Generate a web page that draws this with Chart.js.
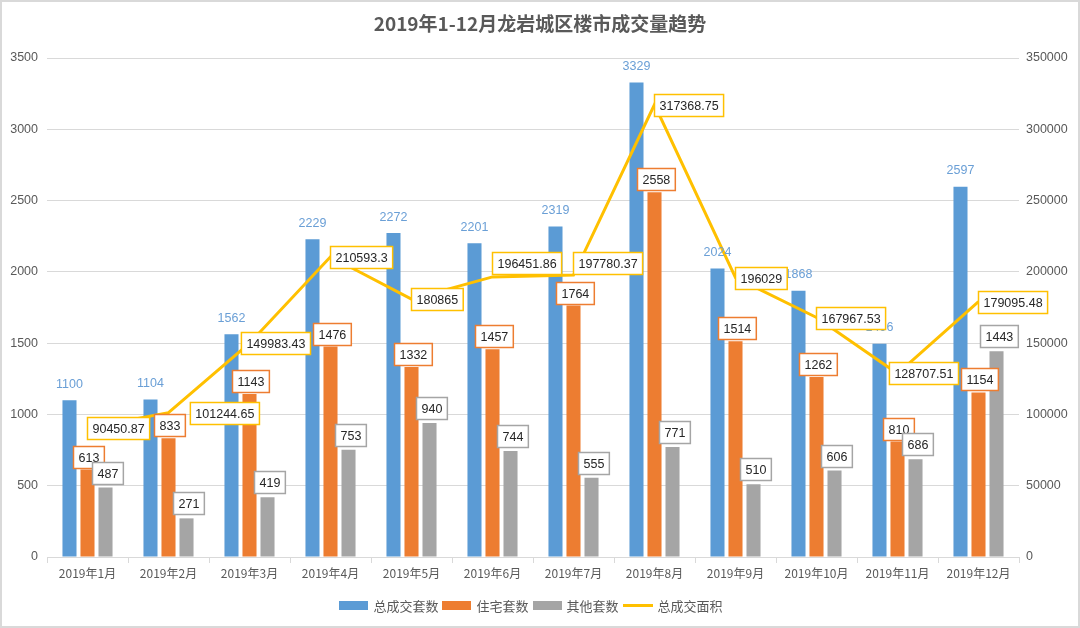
<!DOCTYPE html>
<html>
<head>
<meta charset="utf-8">
<script src="https://cdn.jsdelivr.net/npm/chart.js@4/dist/chart.umd.min.js"></script>
<style>
  html, body { margin: 0; padding: 0; background: #fff; }
  #wrap { position: relative; width: 1080px; height: 628px; overflow: hidden; }
  #frame { position: absolute; left: 0; top: 0; width: 1076px; height: 624px; border: 2px solid #d9d9d9; pointer-events: none; }
  #title { position: absolute; left: 0; top: 9px; width: 1080px; text-align: center; font: bold 19px "Noto Sans CJK SC", sans-serif; color: #595959; }
  #legend { position: absolute; left: 0; top: 596px; width: 1062px; display: flex; justify-content: center; align-items: center; font: 13px "Noto Sans CJK SC", sans-serif; color: #595959; }
  #legend .it { display: flex; align-items: center; margin: 0 2px; }
  #legend .sw { display: inline-block; width: 29px; height: 9px; margin-right: 5px; }
  #legend .ln { display: inline-block; width: 30px; height: 3px; margin-right: 5px; }
  canvas { position: absolute; left: 0; top: 0; }
</style>
</head>
<body>
<div id="wrap">
  <canvas id="c" width="1080" height="628"></canvas>
  <div id="title">2019年1-12月龙岩城区楼市成交量趋势</div>
  <div id="legend"></div>
  <div id="frame"></div>
</div>
<script>
const categories = ['2019年1月','2019年2月','2019年3月','2019年4月','2019年5月','2019年6月','2019年7月','2019年8月','2019年9月','2019年10月','2019年11月','2019年12月'];
const totalUnits = [1100, 1104, 1562, 2229, 2272, 2201, 2319, 3329, 2024, 1868, 1496, 2597];
const residentialUnits = [613, 833, 1143, 1476, 1332, 1457, 1764, 2558, 1514, 1262, 810, 1154];
const otherUnits = [487, 271, 419, 753, 940, 744, 555, 771, 510, 606, 686, 1443];
const totalArea = [90450.87, 101244.65, 149983.43, 210593.3, 180865, 196451.86, 197780.37, 317368.75, 196029, 167967.53, 128707.51, 179095.48];
const areaLabels = ['90450.87','101244.65','149983.43','210593.3','180865','196451.86','197780.37','317368.75','196029','167967.53','128707.51','179095.48'];
const leftTicks = [0, 500, 1000, 1500, 2000, 2500, 3000, 3500];
const rightTicks = [0, 50000, 100000, 150000, 200000, 250000, 300000, 350000];
const seriesNames = ['总成交套数', '住宅套数', '其他套数', '总成交面积'];

const BLUE = '#5b9bd5', ORANGE = '#ed7d31', GRAY = '#a5a5a5', YELLOW = '#ffc000';
const LABEL_FONT = '12.5px "Liberation Sans", sans-serif';
const BOX_H = 22;

// HTML legend
const legend = document.getElementById('legend');
[[BLUE,'sw'],[ORANGE,'sw'],[GRAY,'sw'],[YELLOW,'ln']].forEach((s, i) => {
  const it = document.createElement('span'); it.className = 'it';
  const sw = document.createElement('span'); sw.className = s[1]; sw.style.background = s[0];
  const tx = document.createElement('span'); tx.textContent = seriesNames[i];
  it.appendChild(sw); it.appendChild(tx); legend.appendChild(it);
});

function boxRect(ctx, text, cx, cy) {
  ctx.font = LABEL_FONT;
  const w = ctx.measureText(text).width + 10;
  return { x: Math.round(cx - w / 2) + 0.5, y: Math.round(cy - BOX_H / 2) + 0.5, w: w, h: BOX_H };
}
function drawBox(ctx, text, r, border) {
  ctx.font = LABEL_FONT;
  ctx.fillStyle = '#fff';
  ctx.fillRect(r.x, r.y, r.w, r.h);
  ctx.strokeStyle = border; ctx.lineWidth = 1.5;
  ctx.strokeRect(r.x, r.y, r.w, r.h);
  ctx.fillStyle = '#262626';
  ctx.textAlign = 'center'; ctx.textBaseline = 'middle';
  ctx.fillText(text, r.x + r.w / 2, r.y + r.h / 2 + 1);
}
function overlap(a, b) {
  return a.x < b.x + b.w && b.x < a.x + a.w && a.y < b.y + b.h && b.y < a.y + a.h;
}

const labelPlugin = {
  id: 'labels',
  afterDatasetsDraw(chart) {
    const ctx = chart.ctx;
    ctx.save();
    ctx.font = LABEL_FONT;
    ctx.fillStyle = '#6a9fd6'; ctx.textAlign = 'center'; ctx.textBaseline = 'middle';
    chart.getDatasetMeta(0).data.forEach((b, i) => ctx.fillText(String(totalUnits[i]), b.x, b.y - 16));
    const placed = [];
    chart.getDatasetMeta(1).data.forEach((b, i) => {
      const r = boxRect(ctx, String(residentialUnits[i]), b.x + 1, b.y - 13);
      drawBox(ctx, String(residentialUnits[i]), r, ORANGE); placed.push(r);
    });
    chart.getDatasetMeta(2).data.forEach((b, i) => {
      const r = boxRect(ctx, String(otherUnits[i]), b.x + 2, b.y - 15);
      drawBox(ctx, String(otherUnits[i]), r, GRAY); placed.push(r);
    });
    // line labels: just right of point; nudge away from bar labels
    chart.getDatasetMeta(3).data.forEach((p, i) => {
      const t = areaLabels[i];
      ctx.font = LABEL_FONT;
      const w = ctx.measureText(t).width + 10;
      let r = boxRect(ctx, t, p.x - 1 + w / 2, p.y);
      for (const q of placed) {
        if (overlap(r, q)) {
          const ov = r.y + r.h - q.y;
          if (ov > 0 && ov <= 8) r.y -= ov + 8;
          else if (q.x > r.x) r.x = q.x - r.w - 3;
          else r.x = q.x + q.w + 5;
        }
      }
      drawBox(ctx, t, r, YELLOW);
    });
    ctx.restore();
  }
};

new Chart(document.getElementById('c'), {
  data: {
    labels: categories,
    datasets: [
      { type: 'bar', label: seriesNames[0], data: totalUnits, backgroundColor: BLUE, yAxisID: 'y', order: 2, categoryPercentage: 0.667, barPercentage: 0.78 },
      { type: 'bar', label: seriesNames[1], data: residentialUnits, backgroundColor: ORANGE, yAxisID: 'y', order: 2, categoryPercentage: 0.667, barPercentage: 0.78 },
      { type: 'bar', label: seriesNames[2], data: otherUnits, backgroundColor: GRAY, yAxisID: 'y', order: 2, categoryPercentage: 0.667, barPercentage: 0.78 },
      { type: 'line', label: seriesNames[3], data: totalArea, borderColor: YELLOW, backgroundColor: YELLOW, borderWidth: 3, pointRadius: 0, tension: 0, yAxisID: 'y1', order: 1 }
    ]
  },
  options: {
    responsive: false,
    animation: false,
    layout: { padding: { top: 58, left: 0, right: 0, bottom: 0 } },
    plugins: { legend: { display: false }, title: { display: false }, tooltip: { enabled: false } },
    scales: {
      x: {
        grid: { display: true, drawOnChartArea: false, offset: true, tickLength: 6, color: '#d9d9d9' },
        border: { display: true, color: '#d9d9d9', width: 1 },
        ticks: { color: '#595959', font: { size: 12, family: '"Noto Sans CJK SC", sans-serif' }, padding: 3, maxRotation: 0, autoSkip: false },
        afterFit(s) { s.height = 71; }
      },
      y: {
        position: 'left', min: 0, max: 3500,
        afterBuildTicks(s) { s.ticks = leftTicks.map(v => ({ value: v })); },
        grid: { color: '#d9d9d9', drawTicks: false },
        border: { display: false },
        ticks: { color: '#595959', font: { size: 12.5, family: '"Liberation Sans", sans-serif' }, padding: 9, callback: v => String(v) },
        afterFit(s) { s.width = 47; }
      },
      y1: {
        position: 'right', min: 0, max: 350000,
        afterBuildTicks(s) { s.ticks = rightTicks.map(v => ({ value: v })); },
        grid: { drawOnChartArea: false, drawTicks: false },
        border: { display: false },
        ticks: { color: '#595959', font: { size: 12.5, family: '"Liberation Sans", sans-serif' }, padding: 7, callback: v => String(v) },
        afterFit(s) { s.width = 61; }
      }
    }
  },
  plugins: [labelPlugin]
});
</script>
</body>
</html>
